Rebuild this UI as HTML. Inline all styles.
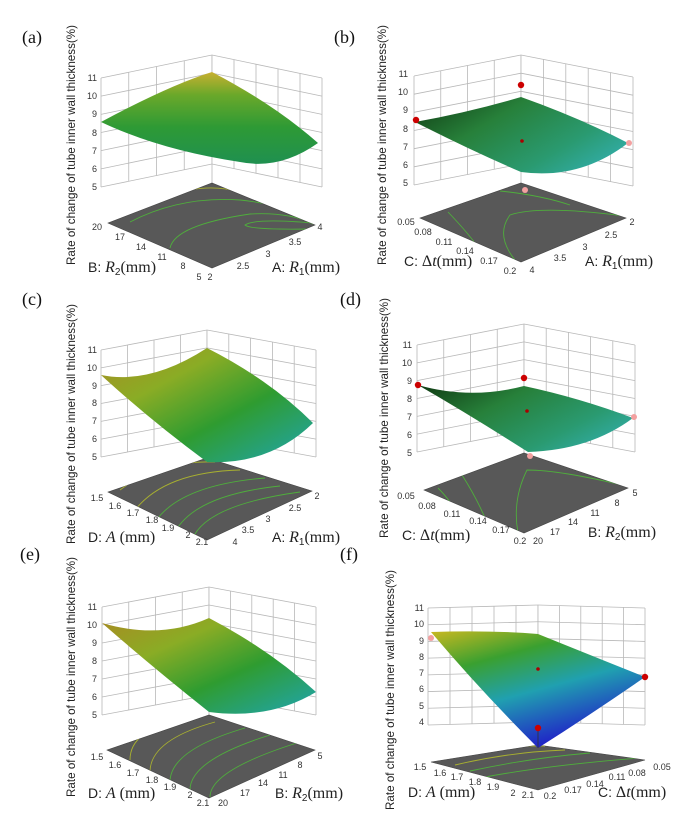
<!DOCTYPE html>
<html><head><meta charset="utf-8"><style>
html,body{margin:0;padding:0;background:#fff;}
svg{display:block;}
.zl{font-family:"Liberation Sans",sans-serif;font-size:9px;fill:#333;text-anchor:end;}
.fl{font-family:"Liberation Sans",sans-serif;font-size:9px;fill:#333;text-anchor:middle;}
.yl{font-family:"Liberation Sans",sans-serif;font-size:12px;fill:#222;text-anchor:middle;}
.ax{font-family:"Liberation Sans",sans-serif;font-size:14px;fill:#222;}
.ax .r{font-family:"Liberation Serif",serif;font-style:italic;font-size:16px;}
.ax .m{font-family:"Liberation Serif",serif;font-size:16px;}
.pl{font-family:"Liberation Serif",serif;font-size:18px;fill:#111;}
.g line{stroke:#b8b8b8;stroke-width:0.8;vector-effect:non-scaling-stroke;}
.floor{fill:#585858;stroke:#444;stroke-width:0.6;}
.ct{fill:none;stroke:#4fae3c;stroke-width:0.9;}
.cy{fill:none;stroke:#a8b030;stroke-width:0.9;}
</style></head><body>
<svg width="697" height="820" viewBox="0 0 697 820" xmlns="http://www.w3.org/2000/svg">
<defs>
<g id="gl" class="g">
<rect x="0" y="0" width="1" height="1" fill="#fff"/>
<line x1="0" y1="0" x2="0" y2="1"/><line x1=".25" y1="0" x2=".25" y2="1"/><line x1=".5" y1="0" x2=".5" y2="1"/><line x1=".75" y1="0" x2=".75" y2="1"/><line x1="1" y1="0" x2="1" y2="1"/>
<line x1="0" y1="0" x2="1" y2="0"/><line x1="0" y1=".1667" x2="1" y2=".1667"/><line x1="0" y1=".3333" x2="1" y2=".3333"/><line x1="0" y1=".5" x2="1" y2=".5"/><line x1="0" y1=".6667" x2="1" y2=".6667"/><line x1="0" y1=".8333" x2="1" y2=".8333"/><line x1="0" y1="1" x2="1" y2="1"/>
</g>
<g id="gr" class="g">
<rect x="0" y="0" width="1" height="1" fill="#fff"/>
<line x1="0" y1="0" x2="0" y2="1"/><line x1=".2" y1="0" x2=".2" y2="1"/><line x1=".4" y1="0" x2=".4" y2="1"/><line x1=".6" y1="0" x2=".6" y2="1"/><line x1=".8" y1="0" x2=".8" y2="1"/><line x1="1" y1="0" x2="1" y2="1"/>
<line x1="0" y1="0" x2="1" y2="0"/><line x1="0" y1=".1667" x2="1" y2=".1667"/><line x1="0" y1=".3333" x2="1" y2=".3333"/><line x1="0" y1=".5" x2="1" y2=".5"/><line x1="0" y1=".6667" x2="1" y2=".6667"/><line x1="0" y1=".8333" x2="1" y2=".8333"/><line x1="0" y1="1" x2="1" y2="1"/>
</g>
<g id="gf" class="g">
<rect x="0" y="0" width="1" height="1" fill="#fff"/>
<line x1="0" y1="0" x2="0" y2="1"/><line x1=".2" y1="0" x2=".2" y2="1"/><line x1=".4" y1="0" x2=".4" y2="1"/><line x1=".6" y1="0" x2=".6" y2="1"/><line x1=".8" y1="0" x2=".8" y2="1"/><line x1="1" y1="0" x2="1" y2="1"/>
<line x1="0" y1="0" x2="1" y2="0"/><line x1="0" y1=".1429" x2="1" y2=".1429"/><line x1="0" y1=".2857" x2="1" y2=".2857"/><line x1="0" y1=".4286" x2="1" y2=".4286"/><line x1="0" y1=".5714" x2="1" y2=".5714"/><line x1="0" y1=".7143" x2="1" y2=".7143"/><line x1="0" y1=".8571" x2="1" y2=".8571"/><line x1="0" y1="1" x2="1" y2="1"/>
</g>
<clipPath id="ca"><polygon points="108,223 212,183 315,225 212,268"/></clipPath>
<clipPath id="cb"><polygon points="420,218 521,183 626,218 521,262"/></clipPath>
<clipPath id="cc"><polygon points="108,492 207,458 312,491 207,540"/></clipPath>
<clipPath id="cd"><polygon points="424,490 524,453 628,488 524,533"/></clipPath>
<clipPath id="ce"><polygon points="107,750 209,715 315,750 209,798"/></clipPath>
<clipPath id="cf"><polygon points="431,762 538,745 645,760 538,790"/></clipPath>
<linearGradient id="sa" x1="0" y1="0" x2="0" y2="1"><stop offset="0" stop-color="#c8b030"/><stop offset=".25" stop-color="#6aa82a"/><stop offset=".6" stop-color="#2e9a35"/><stop offset="1" stop-color="#1f9050"/></linearGradient>
<linearGradient id="sc" x1="0" y1="0" x2="1" y2="1"><stop offset="0" stop-color="#a88c22"/><stop offset=".3" stop-color="#8aac25"/><stop offset=".6" stop-color="#2f9c30"/><stop offset="1" stop-color="#20a5b0"/></linearGradient>
<linearGradient id="sb" x1="0" y1="0" x2="1" y2="0.6"><stop offset="0" stop-color="#0f3a12"/><stop offset=".4" stop-color="#27803a"/><stop offset=".8" stop-color="#2a9a70"/><stop offset="1" stop-color="#30a89a"/></linearGradient>
<linearGradient id="sf" x1="0" y1="0" x2="0.5" y2="1"><stop offset="0" stop-color="#c8b820"/><stop offset=".3" stop-color="#3aa030"/><stop offset=".6" stop-color="#20a0b0"/><stop offset="1" stop-color="#2020c8"/></linearGradient>
</defs>

<!-- ===== (a) ===== -->
<text class="pl" x="22" y="43">(a)</text>
<text class="yl" transform="translate(75,145) rotate(-90)" textLength="240" lengthAdjust="spacingAndGlyphs">Rate of change of tube inner wall thickness(%)</text>
<use href="#gl" transform="matrix(111,-23,0,109,101,78)"/>
<use href="#gr" transform="matrix(110,23,0,109,212,55)"/>
<line x1="212" y1="164" x2="212" y2="183" stroke="#b8b8b8" stroke-width="0.8"/>
<polygon class="floor" points="108,223 212,183 315,225 212,268"/>
<g clip-path="url(#ca)">
<path class="cy" d="M190,190 Q215,185 240,192"/>
<path class="ct" d="M130,222 Q180,196 240,200 Q290,205 313,224"/>
<path class="ct" d="M170,248 Q175,225 250,214 Q290,212 313,224"/>
<path class="ct" d="M310,229 Q250,230 245,225 Q255,218 313,223"/>
</g>
<path d="M101,122 Q170,85 212,72 Q275,105 318,143 Q280,170 240,162 Q160,150 101,122 Z" fill="url(#sa)"/>
<g class="zl"><text x="97" y="81">11</text><text x="97" y="99">10</text><text x="97" y="117">9</text><text x="97" y="136">8</text><text x="97" y="154">7</text><text x="97" y="172">6</text><text x="97" y="190">5</text></g>
<g class="fl"><text x="97" y="230">20</text><text x="120" y="240">17</text><text x="141" y="250">14</text><text x="162" y="260">11</text><text x="183" y="269">8</text><text x="199" y="280">5</text>
<text x="210" y="280">2</text><text x="243" y="269">2.5</text><text x="268" y="257">3</text><text x="295" y="245">3.5</text><text x="320" y="230">4</text></g>
<text class="ax" x="88" y="272">B: <tspan class="r">R</tspan><tspan font-size="10" dy="3">2</tspan><tspan class="m" dy="-3">(mm)</tspan></text>
<text class="ax" x="272" y="272">A: <tspan class="r">R</tspan><tspan font-size="10" dy="3">1</tspan><tspan class="m" dy="-3">(mm)</tspan></text>

<!-- ===== (b) ===== -->
<text class="pl" x="334" y="43">(b)</text>
<text class="yl" transform="translate(386,145) rotate(-90)" textLength="240" lengthAdjust="spacingAndGlyphs">Rate of change of tube inner wall thickness(%)</text>
<use href="#gl" transform="matrix(107,-21,0,109,414,76)"/>
<use href="#gr" transform="matrix(112,22,0,109,521,55)"/>
<line x1="521" y1="164" x2="521" y2="183" stroke="#b8b8b8" stroke-width="0.8"/>
<polygon class="floor" points="420,218 521,183 626,218 521,262"/>
<g clip-path="url(#cb)">
<path class="ct" d="M500,191 Q540,195 570,205"/>
<path class="ct" d="M448,212 Q470,235 480,250"/>
<path class="ct" d="M515,260 Q495,235 510,215 Q540,205 624,216"/>
</g>
<path d="M415,122 Q470,112 521,97 Q580,118 628,143 Q580,180 521,172 Q470,150 415,122 Z" fill="url(#sb)"/>
<circle cx="416" cy="120" r="3.2" fill="#c00"/><circle cx="521" cy="85" r="3.2" fill="#c00"/><circle cx="522" cy="141" r="1.8" fill="#a00"/><circle cx="629" cy="143" r="3" fill="#f3a0a0"/><circle cx="525" cy="190" r="3" fill="#f3a0a0"/>
<g class="zl"><text x="408" y="77">11</text><text x="408" y="95">10</text><text x="408" y="113">9</text><text x="408" y="132">8</text><text x="408" y="150">7</text><text x="408" y="168">6</text><text x="408" y="186">5</text></g>
<g class="fl"><text x="406" y="225">0.05</text><text x="423" y="235">0.08</text><text x="444" y="245">0.11</text><text x="465" y="254">0.14</text><text x="489" y="264">0.17</text><text x="510" y="274">0.2</text>
<text x="632" y="225">2</text><text x="611" y="238">2.5</text><text x="585" y="250">3</text><text x="560" y="261">3.5</text><text x="532" y="273">4</text></g>
<text class="ax" x="404" y="266">C: <tspan class="m">Δ</tspan><tspan class="r">t</tspan><tspan class="m">(mm)</tspan></text>
<text class="ax" x="585" y="266">A: <tspan class="r">R</tspan><tspan font-size="10" dy="3">1</tspan><tspan class="m" dy="-3">(mm)</tspan></text>

<!-- ===== (c) ===== -->
<text class="pl" x="22" y="305">(c)</text>
<text class="yl" transform="translate(75,424) rotate(-90)" textLength="240" lengthAdjust="spacingAndGlyphs">Rate of change of tube inner wall thickness(%)</text>
<use href="#gl" transform="matrix(106,-20,0,107,101,350)"/>
<use href="#gr" transform="matrix(109,20,0,107,207,330)"/>
<line x1="207" y1="437" x2="207" y2="458" stroke="#b8b8b8" stroke-width="0.8"/>
<polygon class="floor" points="108,492 207,458 312,491 207,540"/>
<g clip-path="url(#cc)">
<path class="cy" d="M120,490 Q160,460 215,462"/>
<path class="cy" d="M135,510 Q165,472 240,470"/>
<path class="ct" d="M155,522 Q180,485 265,478"/>
<path class="ct" d="M175,532 Q195,495 280,486"/>
<path class="ct" d="M192,540 Q205,505 300,492"/>
</g>
<path d="M101,375 Q150,385 207,348 Q270,380 313,423 Q270,465 207,462 Q150,420 101,375 Z" fill="url(#sc)"/>
<g class="zl"><text x="97" y="353">11</text><text x="97" y="371">10</text><text x="97" y="389">9</text><text x="97" y="406">8</text><text x="97" y="424">7</text><text x="97" y="442">6</text><text x="97" y="460">5</text></g>
<g class="fl"><text x="97" y="501">1.5</text><text x="115" y="509">1.6</text><text x="133" y="516">1.7</text><text x="152" y="523">1.8</text><text x="168" y="531">1.9</text><text x="188" y="538">2</text><text x="202" y="545">2.1</text>
<text x="317" y="499">2</text><text x="295" y="511">2.5</text><text x="268" y="522">3</text><text x="248" y="533">3.5</text><text x="235" y="545">4</text></g>
<text class="ax" x="88" y="542">D: <tspan class="r">A</tspan><tspan class="m"> (mm)</tspan></text>
<text class="ax" x="272" y="542">A: <tspan class="r">R</tspan><tspan font-size="10" dy="3">1</tspan><tspan class="m" dy="-3">(mm)</tspan></text>

<!-- ===== (d) ===== -->
<text class="pl" x="340" y="305">(d)</text>
<text class="yl" transform="translate(388,418) rotate(-90)" textLength="240" lengthAdjust="spacingAndGlyphs">Rate of change of tube inner wall thickness(%)</text>
<use href="#gl" transform="matrix(107,-21,0,107,417,345)"/>
<use href="#gr" transform="matrix(111,21,0,107,524,324)"/>
<line x1="524" y1="431" x2="524" y2="453" stroke="#b8b8b8" stroke-width="0.8"/>
<polygon class="floor" points="424,490 524,453 628,488 524,533"/>
<g clip-path="url(#cd)">
<path class="ct" d="M438,488 Q445,495 450,502"/>
<path class="ct" d="M462,475 Q478,500 488,525"/>
<path class="ct" d="M518,533 Q512,500 527,470 Q560,470 626,486"/>
</g>
<path d="M418,385 Q470,400 524,386 Q580,398 633,418 Q590,450 528,452 Q470,415 418,385 Z" fill="url(#sb)"/>
<circle cx="418" cy="385" r="3.2" fill="#c00"/><circle cx="524" cy="378" r="3.2" fill="#c00"/><circle cx="527" cy="411" r="1.8" fill="#a00"/><circle cx="634" cy="417" r="3" fill="#f3a0a0"/><circle cx="530" cy="456" r="3" fill="#f3a0a0"/>
<g class="zl"><text x="412" y="348">11</text><text x="412" y="366">10</text><text x="412" y="384">9</text><text x="412" y="402">8</text><text x="412" y="420">7</text><text x="412" y="438">6</text><text x="412" y="456">5</text></g>
<g class="fl"><text x="406" y="499">0.05</text><text x="427" y="509">0.08</text><text x="452" y="517">0.11</text><text x="478" y="524">0.14</text><text x="501" y="533">0.17</text><text x="520" y="544">0.2</text>
<text x="635" y="496">5</text><text x="617" y="506">8</text><text x="595" y="516">11</text><text x="573" y="525">14</text><text x="555" y="535">17</text><text x="538" y="544">20</text></g>
<text class="ax" x="402" y="540">C: <tspan class="m">Δ</tspan><tspan class="r">t</tspan><tspan class="m">(mm)</tspan></text>
<text class="ax" x="588" y="537">B: <tspan class="r">R</tspan><tspan font-size="10" dy="3">2</tspan><tspan class="m" dy="-3">(mm)</tspan></text>

<!-- ===== (e) ===== -->
<text class="pl" x="20" y="560">(e)</text>
<text class="yl" transform="translate(75,677) rotate(-90)" textLength="240" lengthAdjust="spacingAndGlyphs">Rate of change of tube inner wall thickness(%)</text>
<use href="#gl" transform="matrix(107,-20,0,108,102,607)"/>
<use href="#gr" transform="matrix(107,20,0,108,209,587)"/>
<line x1="209" y1="695" x2="209" y2="715" stroke="#b8b8b8" stroke-width="0.8"/>
<polygon class="floor" points="107,750 209,715 315,750 209,798"/>
<g clip-path="url(#ce)">
<path class="cy" d="M130,760 Q130,730 180,722"/>
<path class="cy" d="M150,772 Q150,740 215,722"/>
<path class="ct" d="M170,782 Q170,750 245,728"/>
<path class="ct" d="M190,790 Q190,760 270,735"/>
<path class="ct" d="M210,797 Q210,770 300,742"/>
</g>
<path d="M102,623 Q160,640 209,618 Q270,650 316,692 Q270,720 209,712 Q150,665 102,623 Z" fill="url(#sc)"/>
<g class="zl"><text x="97" y="610">11</text><text x="97" y="628">10</text><text x="97" y="646">9</text><text x="97" y="664">8</text><text x="97" y="682">7</text><text x="97" y="700">6</text><text x="97" y="718">5</text></g>
<g class="fl"><text x="97" y="760">1.5</text><text x="115" y="768">1.6</text><text x="133" y="776">1.7</text><text x="152" y="783">1.8</text><text x="170" y="790">1.9</text><text x="190" y="798">2</text><text x="203" y="806">2.1</text>
<text x="320" y="759">5</text><text x="300" y="768">8</text><text x="283" y="778">11</text><text x="263" y="786">14</text><text x="245" y="796">17</text><text x="223" y="806">20</text></g>
<text class="ax" x="88" y="798">D: <tspan class="r">A</tspan><tspan class="m"> (mm)</tspan></text>
<text class="ax" x="275" y="798">B: <tspan class="r">R</tspan><tspan font-size="10" dy="3">2</tspan><tspan class="m" dy="-3">(mm)</tspan></text>

<!-- ===== (f) ===== -->
<text class="pl" x="340" y="560">(f)</text>
<text class="yl" transform="translate(394,690) rotate(-90)" textLength="240" lengthAdjust="spacingAndGlyphs">Rate of change of tube inner wall thickness(%)</text>
<use href="#gf" transform="matrix(110,-3,0,117,428,608)"/>
<use href="#gf" transform="matrix(107,3,0,117,538,605)"/>
<line x1="538" y1="722" x2="538" y2="745" stroke="#b8b8b8" stroke-width="0.8"/>
<polygon class="floor" points="431,762 538,745 645,760 538,790"/>
<g clip-path="url(#cf)">
<path class="cy" d="M445,758 Q500,745 545,746"/>
<path class="cy" d="M455,765 Q510,752 565,750"/>
<path class="ct" d="M470,771 Q530,758 590,753"/>
<path class="ct" d="M485,777 Q550,765 640,758"/>
</g>
<path d="M431,632 Q490,630 538,634 Q590,655 645,677 Q590,715 538,748 Q480,690 431,632 Z" fill="url(#sf)"/>
<line x1="538" y1="728" x2="538" y2="748" stroke="#333" stroke-width="0.8"/>
<circle cx="431" cy="638" r="3" fill="#f3a0a0"/><circle cx="538" cy="728" r="3.2" fill="#c00"/><circle cx="538" cy="669" r="1.8" fill="#a00"/><circle cx="645" cy="677" r="3.2" fill="#c00"/>
<g class="zl"><text x="424" y="611">11</text><text x="424" y="627">10</text><text x="424" y="644">9</text><text x="424" y="660">8</text><text x="424" y="676">7</text><text x="424" y="692">6</text><text x="424" y="709">5</text><text x="424" y="725">4</text></g>
<g class="fl"><text x="420" y="770">1.5</text><text x="440" y="776">1.6</text><text x="457" y="780">1.7</text><text x="475" y="785">1.8</text><text x="493" y="790">1.9</text><text x="513" y="796">2</text><text x="528" y="798">2.1</text>
<text x="662" y="770">0.05</text><text x="637" y="776">0.08</text><text x="617" y="780">0.11</text><text x="595" y="787">0.14</text><text x="573" y="793">0.17</text><text x="550" y="799">0.2</text></g>
<text class="ax" x="408" y="797">D: <tspan class="r">A</tspan><tspan class="m"> (mm)</tspan></text>
<text class="ax" x="598" y="797">C: <tspan class="m">Δ</tspan><tspan class="r">t</tspan><tspan class="m">(mm)</tspan></text>
</svg>
</body></html>
